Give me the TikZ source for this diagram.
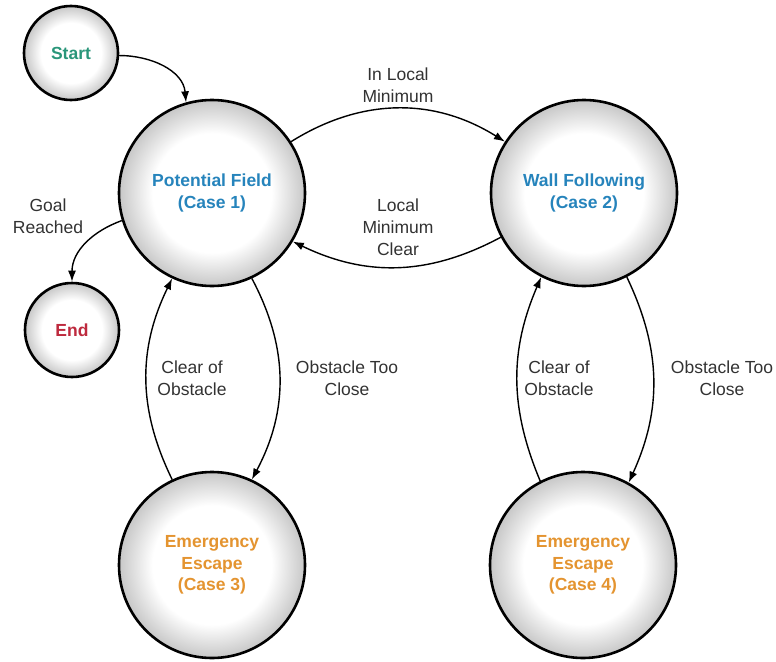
\documentclass[tikz,border=0pt]{standalone}
\usepackage{fontspec}
\setmainfont{Liberation Sans}
\usetikzlibrary{arrows.meta}
\definecolor{startc}{RGB}{42,150,122}
\definecolor{endc}{RGB}{190,42,62}
\definecolor{bluec}{RGB}{38,132,188}
\definecolor{orangec}{RGB}{228,148,48}
\definecolor{labc}{RGB}{50,50,50}
\pgfdeclareradialshading{ballshade}{\pgfpoint{0bp}{0bp}}{color(0bp)=(white); color(16bp)=(white); color(25bp)=(black!22); color(50bp)=(black!22)}
\tikzset{
  state/.style={circle, draw=black, line width=2.6pt, shading=ballshade, align=center,
    font=\fontsize{17.5}{21.5}\selectfont\bfseries, inner sep=0pt},
  bigst/.style={state, minimum size=186pt},
  smallst/.style={state, minimum size=94pt},
  elabel/.style={align=center, text=labc, font=\fontsize{17.5}{22}\selectfont},
  trans/.style={line width=1.4pt, -{Latex[length=11pt,width=8pt]}}
}
\begin{document}
\begin{tikzpicture}[x=1pt,y=1pt]
\useasboundingbox (0,0) rectangle (776,-661);
\node[smallst, text=startc] (start) at (71,-53) {Start};
\node[smallst, text=endc] (endn) at (72,-330) {End};
\node[bigst, text=bluec] (pf) at (212,-193) {Potential Field\\(Case 1)};
\node[bigst, text=bluec] (wf) at (584,-193) {Wall Following\\(Case 2)};
\node[bigst, text=orangec] (ee3) at (212,-565) {Emergency\\Escape\\(Case 3)};
\node[bigst, text=orangec] (ee4) at (583,-565) {Emergency\\Escape\\(Case 4)};

\node[elabel] (goal) at (48,-216) {Goal\\Reached};
\node[elabel] (inlm) at (398,-85) {In Local\\Minimum};
\node[elabel] (lmc) at (398,-227) {Local\\Minimum\\Clear};
\node[elabel] (clr1) at (192,-378) {Clear of\\Obstacle};
\node[elabel] (otc1) at (347,-378) {Obstacle Too\\Close};
\node[elabel] (clr2) at (559,-378) {Clear of\\Obstacle};
\node[elabel] (otc2) at (722,-378) {Obstacle Too\\Close};

\draw[trans] (start.-3) to[out=0,in=95] (pf.106);
\draw[trans] (pf.197) to[out=200,in=90] (endn.90);
\draw[trans] (pf.33) to[bend left=32] (wf.147);
\draw[trans] (wf.208) to[bend left=27] (pf.329);
\draw[trans] (pf.-65) to[bend left=28] (ee3.65);
\draw[trans] (ee3.115) to[bend left=26] (pf.245);
\draw[trans] (wf.-63) to[bend left=25] (ee4.61);
\draw[trans] (ee4.117) to[bend left=23] (wf.243);
\end{tikzpicture}
\end{document}
